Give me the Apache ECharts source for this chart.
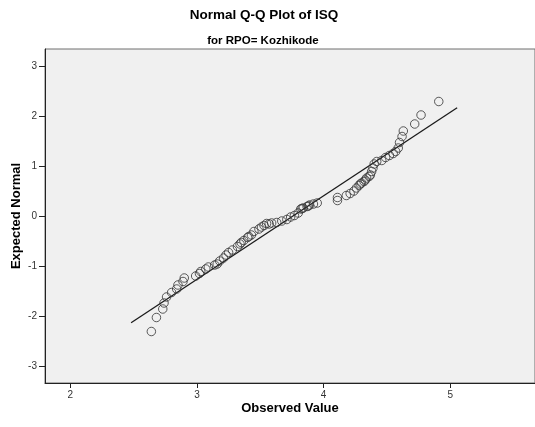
<!DOCTYPE html>
<html>
<head>
<meta charset="utf-8">
<script src="https://cdn.jsdelivr.net/npm/echarts@6/dist/echarts.min.js"></script>
<style>
  html, body { margin: 0; padding: 0; background: #ffffff; }
  #chart { width: 535px; height: 427px; }
</style>
</head>
<body>
<div id="chart"></div>
<script>
// Observed ISQ values (sorted) and their expected normal scores
var observedValues = [
  2.64, 2.68, 2.73, 2.74, 2.76, 2.80, 2.84, 2.85, 2.89, 2.90,
  2.99, 3.02, 3.03, 3.07, 3.09, 3.14, 3.16, 3.18, 3.21, 3.23,
  3.25, 3.28, 3.32, 3.34, 3.35, 3.37, 3.40, 3.41, 3.43, 3.45,
  3.49, 3.51, 3.53, 3.55, 3.57, 3.59, 3.63, 3.67, 3.71, 3.74,
  3.77, 3.80, 3.82, 3.83, 3.84, 3.87, 3.88, 3.89, 3.92, 3.95,
  4.11, 4.11, 4.18, 4.21, 4.24, 4.26, 4.28, 4.29, 4.30, 4.32,
  4.33, 4.34, 4.36, 4.37, 4.38, 4.39, 4.40, 4.42, 4.46, 4.49,
  4.52, 4.55, 4.57, 4.59, 4.60, 4.62, 4.63, 4.72, 4.77, 4.91
];
var expectedNormal = [
  -2.30, -2.02, -1.85, -1.73, -1.61, -1.52, -1.45, -1.37, -1.30, -1.23,
  -1.19, -1.14, -1.10, -1.05, -1.01, -0.97, -0.95, -0.89, -0.83, -0.77,
  -0.72, -0.67, -0.60, -0.55, -0.52, -0.48, -0.42, -0.40, -0.37, -0.30,
  -0.25, -0.21, -0.18, -0.14, -0.15, -0.13, -0.12, -0.09, -0.06, -0.01,
  0.02, 0.07, 0.15, 0.16, 0.17, 0.20, 0.21, 0.23, 0.25, 0.27,
  0.32, 0.38, 0.42, 0.46, 0.51, 0.57, 0.62, 0.65, 0.67, 0.70,
  0.73, 0.77, 0.80, 0.83, 0.90, 0.97, 1.05, 1.10, 1.12, 1.18,
  1.22, 1.26, 1.30, 1.37, 1.48, 1.60, 1.71, 1.85, 2.03, 2.30
];

// Reference line end points
var lineX = [2.48, 5.055];
var lineY = [-2.126, 2.174];

// Tick labels
var xTicks = [2, 3, 4, 5];
var yTicks = [-3, -2, -1, 0, 1, 2, 3];

var points = observedValues.map(function (v, i) { return [v, expectedNormal[i]]; });
var linePts = lineX.map(function (v, i) { return [v, lineY[i]]; });

var FONT = '"Liberation Sans", Arial, sans-serif';

var chart = echarts.init(document.getElementById('chart'), null, { renderer: 'canvas' });
chart.setOption({
  backgroundColor: '#ffffff',
  animation: false,
  graphic: [
    {
      type: 'text', x: 264, y: 15,
      style: { text: 'Normal Q-Q Plot of ISQ', font: 'bold 13.5px ' + FONT, fill: '#000', align: 'center', verticalAlign: 'middle' }
    },
    {
      type: 'text', x: 263, y: 41,
      style: { text: 'for RPO= Kozhikode', font: 'bold 11.5px ' + FONT, fill: '#000', align: 'center', verticalAlign: 'middle' }
    }
  ],
  grid: {
    left: 45, top: 49, right: 0, bottom: 44,
    containLabel: false, outerBoundsMode: 'none',
    show: true, backgroundColor: '#f0f0f0', borderColor: '#6e6e6e', borderWidth: 1
  },
  xAxis: {
    type: 'value', min: 1.8, max: 5.67,
    name: 'Observed Value', nameLocation: 'middle', nameGap: 19, nameMoveOverlap: false,
    nameTextStyle: { fontFamily: FONT, fontWeight: 'bold', fontSize: 13, color: '#000' },
    axisLine: { show: true, onZero: false, lineStyle: { color: '#222', width: 1 } },
    axisTick: { show: true, length: 5, inside: false, customValues: xTicks, lineStyle: { color: '#222' } },
    axisLabel: { customValues: xTicks, fontFamily: FONT, fontSize: 10, color: '#333', margin: 7 },
    splitLine: { show: false }
  },
  yAxis: {
    type: 'value', min: -3.33, max: 3.35,
    name: 'Expected Normal', nameLocation: 'middle', nameGap: 22, nameMoveOverlap: false,
    nameTextStyle: { fontFamily: FONT, fontWeight: 'bold', fontSize: 13, color: '#000' },
    axisLine: { show: true, onZero: false, lineStyle: { color: '#222', width: 1 } },
    axisTick: { show: true, length: 6, inside: false, customValues: yTicks, lineStyle: { color: '#222' } },
    axisLabel: { customValues: yTicks, fontFamily: FONT, fontSize: 10, color: '#333', margin: 8 },
    splitLine: { show: false }
  },
  series: [
    {
      type: 'line', data: linePts, showSymbol: false, symbol: 'none',
      lineStyle: { color: '#1a1a1a', width: 1.3 }, silent: true, z: 2
    },
    {
      type: 'scatter', data: points, symbol: 'circle', symbolSize: 8.5,
      itemStyle: { color: 'rgba(0,0,0,0)', borderColor: '#333', borderWidth: 1 }, z: 3
    }
  ]
});
</script>
</body>
</html>
